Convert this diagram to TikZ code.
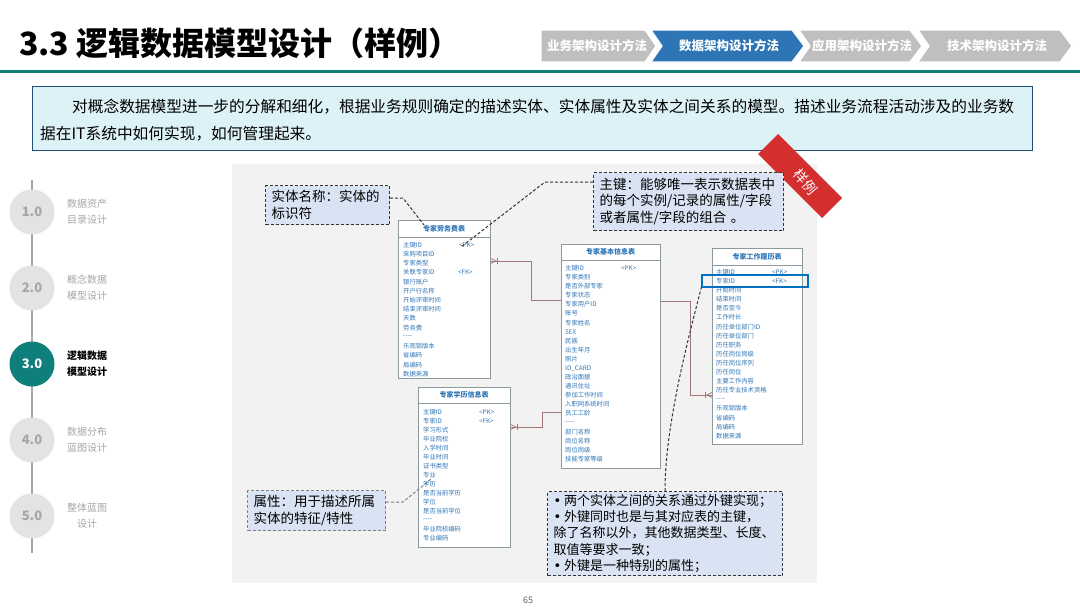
\documentclass[tikz,border=0pt]{standalone}
\usepackage{fontspec}
\setmainfont{Noto Sans CJK SC}
\newfontfamily\dejavu{DejaVu Sans}
\usetikzlibrary{calc}
\definecolor{teal1}{HTML}{0F7F7B}
\definecolor{crumbgray}{HTML}{BFBFBF}
\definecolor{crumbblue}{HTML}{2E75B6}
\definecolor{boxcyan}{HTML}{DDF2F6}
\definecolor{boxborder}{HTML}{1F4E79}
\definecolor{panelgray}{HTML}{F2F2F2}
\definecolor{calfill}{HTML}{DAE3F3}
\definecolor{tbltext}{HTML}{2E75B6}
\definecolor{tbldraw}{HTML}{8C9A9E}
\definecolor{relcol}{HTML}{A37777}
\definecolor{ribbonred}{HTML}{D32F2F}
\definecolor{hlblue}{HTML}{0070C0}
\definecolor{circgray}{HTML}{E3E3E3}
\definecolor{numgray}{HTML}{A6A6A6}
\definecolor{stepgray}{HTML}{A6A6A6}
\newcommand\bul{{\dejavu •}\hspace{3pt}}
\newcommand\sep{{-}{-}{-}{-}}
\newcommand\tblrows[5]{%
  \foreach \r [count=\i from 0] in {#5} {\node[rowtxt] (#1r\i) at (#2,{#3+\i*#4}) {\r};}}
\begin{document}
\begin{tikzpicture}[x=1pt,y=-1pt,
  chevtxt/.style={text=white,font=\fontsize{12.5}{14}\selectfont\bfseries},
  stepcirc/.style={circle,fill=circgray,minimum size=45,inner sep=0,text=numgray,font=\fontsize{13}{15}\selectfont\bfseries},
  steplbl/.style={align=center,text=numgray,font=\fontsize{10}{16}\selectfont},
  tbl/.style={draw=tbldraw,fill=white,line width=0.8,anchor=north west,inner sep=0},
  hdr/.style={text=tbltext,font=\fontsize{7}{8}\selectfont\bfseries,inner sep=0},
  rowtxt/.style={text=tbltext,font=\fontsize{6.3}{7}\selectfont,anchor=west,inner sep=0},
  relline/.style={draw=relcol,line width=0.7},
  callout/.style={draw=black!80,dash pattern=on 3pt off 2pt,line width=1,fill=calfill,
     font=\fontsize{13.5}{16.5}\selectfont,align=left,inner xsep=6,inner ysep=0,anchor=north west},
  leader/.style={draw=black!80,line width=1,dash pattern=on 3pt off 2pt}
]
\useasboundingbox (0,0) rectangle (1080,608);
\fill[white] (0,0) rectangle (1080,608);

% title
\node[anchor=west,inner sep=0,font=\fontsize{32}{36}\selectfont\bfseries] (title) at (19,43) {3.3 逻辑数据模型设计（样例）};
\draw[teal1,line width=3] (0,71.5) -- (1080,71.5);

% breadcrumb
\filldraw[fill=crumbgray,draw=white,line width=1.2] (541,30) -- (645,30) -- (656,46) -- (645,62) -- (541,62) -- cycle;
\filldraw[fill=crumbblue,draw=white,line width=1.2] (651,30) -- (792,30) -- (804,46) -- (792,62) -- (651,62) -- (662,46) -- cycle;
\filldraw[fill=crumbgray,draw=white,line width=1.2] (799,30) -- (910,30) -- (922,46) -- (910,62) -- (799,62) -- (810,46) -- cycle;
\filldraw[fill=crumbgray,draw=white,line width=1.2] (918,30) -- (1060,30) -- (1072,46) -- (1060,62) -- (918,62) -- (929,46) -- cycle;
\node[chevtxt] (cr1) at (597,46) {业务架构设计方法};
\node[chevtxt] (cr2) at (729,46) {数据架构设计方法};
\node[chevtxt] (cr3) at (862,46) {应用架构设计方法};
\node[chevtxt] (cr4) at (997,46) {技术架构设计方法};

% intro box
\node[draw=boxborder,fill=boxcyan,line width=0.8,minimum width=1000,minimum height=64,anchor=north west,inner sep=0] (intro) at (32,86) {};
\node[anchor=west,inner sep=0,font=\fontsize{15.7}{18}\selectfont] (intro1) at (72,107) {对概念数据模型进一步的分解和细化，根据业务规则确定的描述实体、实体属性及实体之间关系的模型。描述业务流程活动涉及的业务数};
\node[anchor=west,inner sep=0,font=\fontsize{15.7}{18}\selectfont] (intro2) at (40,134) {据在IT系统中如何实现，如何管理起来。};

% timeline
\draw[stepgray,line width=2] (32,180) -- (32,553);
\node[stepcirc] (s1) at (32,212) {1.0};
\node[stepcirc] (s2) at (32,288) {2.0};
\node[stepcirc,fill=teal1,text=white] (s3) at (32,364) {3.0};
\node[stepcirc] (s4) at (32,440) {4.0};
\node[stepcirc] (s5) at (32,516) {5.0};
\node[steplbl] (l1) at (87,212) {数据资产\\目录设计};
\node[steplbl] (l2) at (87,288) {概念数据\\模型设计};
\node[steplbl,text=black,font=\fontsize{10}{16}\selectfont\bfseries] (l3) at (87,364) {逻辑数据\\模型设计};
\node[steplbl] (l4) at (87,440) {数据分布\\蓝图设计};
\node[steplbl] (l5) at (87,516) {整体蓝图\\设计};

% panel
\node[fill=panelgray,minimum width=585,minimum height=419,anchor=north west,inner sep=0] (panel) at (232,164) {};

% ribbon
\fill[ribbonred] (778,134) -- (842,198) -- (822,218) -- (758,154) -- cycle;
\node[text=white,rotate=-50,inner sep=0,font=\fontsize{14}{15}\selectfont] (rib) at (806,182) {样例};

% tables
\node[tbl,minimum width=92,minimum height=158] (t1) at (398,220) {};
\draw[tbldraw,line width=0.8] (398,237) -- (490,237);
\node[hdr] (t1h) at (444,228.5) {专家劳务费表};
\tblrows{t1}{403}{245}{9.2}{主键ID,采购项目ID,专家类型,关联专家ID,银行账户,开户行名称,开始评审时间,结束评审时间,天数,劳务费,\sep,乐观锁版本,省编码,局编码,数据来源}
\node[rowtxt] (t1pk) at (459,245) {<PK>};
\node[rowtxt] (t1fk) at (458,272.6) {<FK>};

\node[tbl,minimum width=92,minimum height=160] (t2) at (418,387) {};
\draw[tbldraw,line width=0.8] (418,403) -- (510,403);
\node[hdr] (t2h) at (464,395) {专家学历信息表};
\tblrows{t2}{423}{412}{9}{主键ID,专家ID,学习形式,毕业院校,入学时间,毕业时间,证书类型,专业,学历,是否当前学历,学位,是否当前学位,\sep,毕业院校编码,专业编码}
\node[rowtxt] (t2pk) at (479,412) {<PK>};
\node[rowtxt] (t2fk) at (479,421) {<FK>};

\node[tbl,minimum width=99,minimum height=224] (t3) at (561,244) {};
\draw[tbldraw,line width=0.8] (561,260) -- (660,260);
\node[hdr] (t3h) at (610.5,252) {专家基本信息表};
\tblrows{t3}{565}{268}{9.1}{主键ID,专家类别,是否外部专家,专家状态,专家用户ID,账号,专家姓名,SEX,民族,出生年月,照片,ID\_CARD,政治面貌,通讯住址,参加工作时间,入职网系统时间,员工工龄,\sep,部门名称,岗位名称,岗位岗级,技能专家等级}
\node[rowtxt] (t3pk) at (621,268) {<PK>};

\node[tbl,minimum width=90,minimum height=196] (t4) at (712,248) {};
\draw[tbldraw,line width=0.8] (712,265) -- (802,265);
\node[hdr] (t4h) at (757,256.5) {专家工作履历表};
\tblrows{t4}{716}{272}{9.1}{主键ID,专家ID,开始时间,结束时间,是否至今,工作时长,历任单位部门ID,历任单位部门,历任职务,历任岗位岗级,历任岗位序列,历任岗位,主要工作内容,历任专业技术资格,\sep,乐观锁版本,省编码,局编码,数据来源}
\node[rowtxt] (t4pk) at (772,272) {<PK>};
\node[rowtxt] (t4fk) at (772,281.1) {<FK>};
\draw[hlblue,line width=2.5] (702,275) rectangle (808,287);

% relationships
\coordinate (c1s) at (t1.north east |- 0,261);
\coordinate (c1e) at (t3.north west |- 0,300);
\draw[relline] (c1s) -- (531,261) -- (531,300) -- (c1e);
\draw[relline] ($(c1s)+(0,-2.5)$) -- ($(c1s)+(5,0)$) -- ($(c1s)+(0,2.5)$);
\draw[relline] ($(c1s)+(7,-3)$) -- ($(c1s)+(7,3)$);

\coordinate (c2s) at (t2.north east |- 0,427);
\coordinate (c2e) at (t3.north west |- 0,412);
\draw[relline] (c2s) -- (542,427) -- (542,412) -- (c2e);
\draw[relline] ($(c2s)+(0,-2.5)$) -- ($(c2s)+(5,0)$) -- ($(c2s)+(0,2.5)$);
\draw[relline] ($(c2s)+(7,-3)$) -- ($(c2s)+(7,3)$);

\coordinate (c3s) at (t3.north east |- 0,301);
\coordinate (c3e) at (t4.north west |- 0,395);
\draw[relline] (c3s) -- (690,301) -- (690,395) -- (c3e);
\draw[relline] ($(c3e)+(0,-2.5)$) -- ($(c3e)+(-5,0)$) -- ($(c3e)+(0,2.5)$);
\draw[relline] ($(c3e)+(-7,-3)$) -- ($(c3e)+(-7,3)$);

% callouts
\node[callout,text width=112,minimum height=39] (a1) at (265,185) {实体名称：实体的\\标识符};
\node[callout,text width=178,minimum height=58] (a2) at (593,172) {主键：能够唯一表示数据表中\\的每个实例/记录的属性/字段\\或者属性/字段的组合 。};
\node[callout,draw=black!50,text width=126,minimum height=40] (a3) at (247,490) {属性：用于描述所属\\实体的特征/特性};
\node[callout,text width=223,minimum height=84,font=\fontsize{13}{16.2}\selectfont] (a4) at (547,491) {\bul 两个实体之间的关系通过外键实现；\\\bul 外键同时也是与其对应表的主键，\\除了名称以外，其他数据类型、长度、\\取值等要求一致；\\\bul 外键是一种特别的属性；};

% leaders
\draw[leader] ([yshift=-13]a1.north east) -- (403,198) -- ([xshift=26,yshift=-5]t1.north west);
\draw[leader] ([yshift=-10]a2.north west) -- (545,182) -- ([xshift=2,yshift=-2]t1pk.west);
\draw[leader,draw=black!50] ([yshift=-12]a3.north east) -- (403,502) -- ([xshift=8,yshift=-4]t2r7.west);
\draw[leader] (a4.north) .. controls (665,430) and (685,350) .. (702,285);

% page number
\node[text=black!60,font=\fontsize{9}{10}\selectfont] (pg) at (528,600) {65};
\end{tikzpicture}
\end{document}
